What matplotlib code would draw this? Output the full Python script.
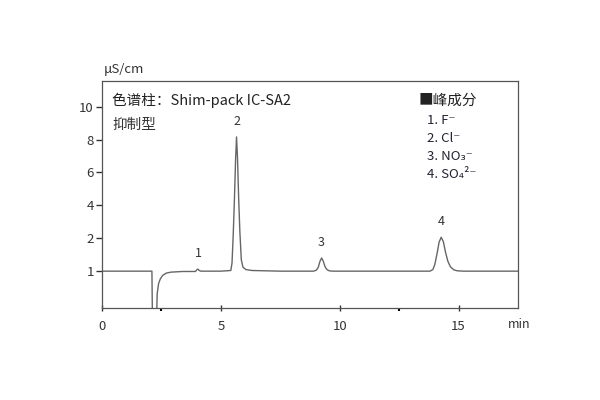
import numpy as np
import matplotlib
matplotlib.use("Agg")
import matplotlib.pyplot as plt

plt.rcParams['font.family'] = ['Noto Sans CJK SC', 'DejaVu Sans']

# chromatogram trace (time in min, conductivity in uS/cm)
times = [0.0, 2.10, 2.13, 2.28, 2.32, 2.38, 2.45, 2.55, 2.70, 2.90, 3.40,
         3.93, 4.00, 4.04, 4.09, 4.16, 5.00,
         5.42, 5.47, 5.52, 5.57, 5.62, 5.66, 5.70, 5.75, 5.80, 5.86, 5.93, 6.05, 6.30,
         7.50, 8.90, 9.02, 9.10, 9.17, 9.24, 9.31, 9.38, 9.46, 9.56, 9.70,
         12.0, 13.80, 13.92, 14.00, 14.10, 14.18, 14.27, 14.36, 14.45, 14.55,
         14.66, 14.80, 14.95, 15.20, 16.5, 17.5]
signal = [1.00, 1.00, -1.0, -1.0, 0.30, 0.62, 0.76, 0.87, 0.94, 0.97, 0.99,
          0.99, 1.05, 1.06, 1.02, 1.00, 1.00,
          1.02, 1.25, 2.20, 4.30, 6.80, 8.16, 6.90, 4.40, 2.40, 1.35, 1.12, 1.05, 1.02,
          1.00, 1.00, 1.03, 1.12, 1.30, 1.40, 1.30, 1.14, 1.05, 1.01, 1.00,
          1.00, 1.00, 1.05, 1.20, 1.55, 1.88, 2.06, 1.90, 1.58, 1.30,
          1.13, 1.04, 1.01, 1.00, 1.00, 1.00]

peak_times = [4.04, 5.66, 9.24, 14.27]
peak_heights = [1.06, 8.16, 1.40, 2.06]
peak_labels = ['1', '2', '3', '4']

components = ['1. F⁻', '2. Cl⁻', '3. NO₃⁻', '4. SO₄²⁻']

x_ticks = [0, 5, 10, 15]
y_ticks = [1, 2, 4, 6, 8, 10]


# y axis is stretched below 2 (1 unit there = 2 units above)
def fwd(y):
    y = np.asarray(y, dtype=float)
    return np.where(y < 2, 2 * y, y + 2)


def inv(p):
    p = np.asarray(p, dtype=float)
    return np.where(p < 4, p / 2, p - 2)


fig = plt.figure(figsize=(6, 4), dpi=100)
ax = fig.add_axes([0.17, 0.23, 0.6933, 0.5675])

ax.plot(times, signal, color='#666666', lw=1.0)

ax.set_yscale('function', functions=(fwd, inv))
ax.set_xlim(0, 17.5)
ax.set_ylim(-0.12, 11.56)

ax.set_xticks(x_ticks)
ax.set_xticks([2.5, 12.5], minor=True)
ax.set_yticks(y_ticks)
ax.set_yticklabels([str(v) for v in y_ticks])
ax.yaxis.set_minor_locator(matplotlib.ticker.NullLocator())
ax.tick_params(axis='both', labelsize=9.5, color='#333333', labelcolor='#333333', width=1.0)
ax.tick_params(axis='y', direction='out', length=4, pad=2)
ax.tick_params(axis='x', which='major', direction='inout', length=5, pad=6)
ax.tick_params(axis='x', which='minor', direction='out', length=2, width=1.5)
for s in ax.spines.values():
    s.set_color('#555555')
    s.set_linewidth(0.9)

for t, h, lab in zip(peak_times, peak_heights, peak_labels):
    ax.annotate(lab, (t, h), xytext=(0, 11), textcoords='offset points',
                ha='center', va='center', fontsize=9, color='#333333')

ax.text(0.025, 0.915, '色谱柱：Shim-pack IC-SA2', transform=ax.transAxes,
        fontsize=10.5, color='#222222', va='center', ha='left')
ax.text(0.025, 0.805, '抑制型', transform=ax.transAxes,
        fontsize=10.5, color='#333333', va='center', ha='left')

ax.text(0.762, 0.912, '■峰成分', transform=ax.transAxes,
        fontsize=10.5, color='#222222', va='center', ha='left')
for i, c in enumerate(components):
    ax.text(0.782, 0.825 - i * 0.079, c, transform=ax.transAxes,
            fontsize=9.5, color='#222233', va='center', ha='left')

fig.text(104 / 600, 1 - 70 / 400, 'μS/cm', fontsize=9.5, color='#333333',
         ha='left', va='center')
fig.text(519 / 600, 1 - 324 / 400, 'min', fontsize=9, color='#333333',
         ha='center', va='center')

fig.savefig('out.png', dpi=100)
